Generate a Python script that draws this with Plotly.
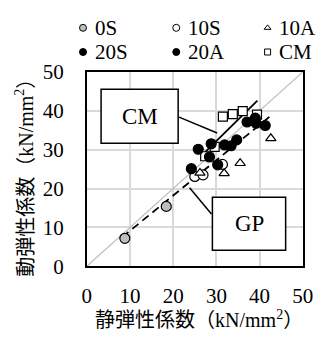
import plotly.graph_objects as go

# ---- data: static modulus (x) vs dynamic modulus (y), kN/mm2 ----
s0_x = [8.8, 18.4]
s0_y = [7.2, 15.4]
s10_x = [25.0, 26.9, 31.4]
s10_y = [23.1, 23.5, 26.2]
a10_x = [26.2, 31.8, 35.5, 42.6]
a10_y = [24.0, 23.9, 26.5, 32.9]
s20_x = [24.2, 25.8, 28.4, 28.8, 30.3]
s20_y = [25.1, 30.1, 28.1, 31.5, 26.1]
a20_x = [31.9, 33.4, 34.7, 37.1, 39.0, 39.2, 41.3]
a20_y = [31.2, 31.0, 32.5, 37.1, 38.1, 36.8, 36.2]
cm_x = [27.4, 29.6, 31.5, 33.8, 36.1, 39.4]
cm_y = [28.3, 30.7, 38.5, 39.1, 39.9, 39.0]

# regression lines
cm_fit_x = [26.5, 39.5]
cm_fit_y = [28.4, 42.6]
gp_fit_x = [8.2, 42.7]
gp_fit_y = [7.5, 38.8]

ticks = [0, 10, 20, 30, 40, 50]
series_names = ["0S", "10S", "10A", "20S", "20A", "CM"]

W, H = 329, 345
PX0, PX1, PY0, PY1 = 86, 313, 64.3, 273.3   # plot frame in pixels

SERIF = "Liberation Serif"
SERIF_JP = "Liberation Serif, Noto Sans CJK JP"

styles = {
    "0S": dict(symbol="circle", color="#bfbfbf", size=10),
    "10S": dict(symbol="circle", color="white", size=10),
    "10A": dict(symbol="triangle-up", color="white", size=9),
    "20S": dict(symbol="circle", color="black", size=10),
    "20A": dict(symbol="circle", color="black", size=10),
    "CM": dict(symbol="square", color="white", size=9),
}

fig = go.Figure()

# 1:1 reference line
fig.add_trace(go.Scatter(x=[0, 50], y=[0, 50], mode="lines",
                         line=dict(color="#bfbfbf", width=1.2),
                         showlegend=False, hoverinfo="skip"))
# fitted lines
fig.add_trace(go.Scatter(x=gp_fit_x, y=gp_fit_y, mode="lines",
                         line=dict(color="black", width=1.8, dash="8px,5px"),
                         showlegend=False))
fig.add_trace(go.Scatter(x=cm_fit_x, y=cm_fit_y, mode="lines",
                         line=dict(color="black", width=1.8),
                         showlegend=False))

data = {
    "0S": (s0_x, s0_y), "10S": (s10_x, s10_y), "10A": (a10_x, a10_y),
    "CM": (cm_x, cm_y), "20S": (s20_x, s20_y), "20A": (a20_x, a20_y),
}
for name, (xs, ys) in data.items():
    st = styles[name]
    fig.add_trace(go.Scatter(
        x=xs, y=ys, mode="markers", name=name, showlegend=False,
        marker=dict(symbol=st["symbol"], size=st["size"], color=st["color"],
                    line=dict(color="black", width=1.2))))

# ---- legend drawn on a full-figure pixel grid ----
leg_mx = [82, 180, 276]
leg_tx = [92, 190, 286]
leg_row = [17, 43]
for i, name in enumerate(series_names):
    r, c = divmod(i, 3)
    st = styles[name]
    fig.add_trace(go.Scatter(
        x=[leg_mx[c]], y=[leg_row[r]], mode="markers", xaxis="x3", yaxis="y3",
        showlegend=False, hoverinfo="skip",
        marker=dict(symbol=st["symbol"], size=st["size"] - 3, color=st["color"],
                    line=dict(color="black", width=1))))
    fig.add_annotation(x=leg_tx[c], y=leg_row[r], xref="x3", yref="y3",
                       text=name, showarrow=False, xanchor="left",
                       yanchor="middle", font=dict(family=SERIF, size=21, color="black"))

# ---- callout boxes and leader lines ----
boxes = [("CM", 101, 83, 182, 141), ("GP", 218, 199, 295, 256)]
for label, x0, y0, x1, y1 in boxes:
    fig.add_shape(type="rect", x0=x0, y0=y0, x1=x1, y1=y1, xref="x3", yref="y3",
                  line=dict(color="black", width=1.5), fillcolor="white", layer="above")
    fig.add_annotation(x=(x0 + x1) / 2, y=(y0 + y1) / 2, xref="x3", yref="y3",
                       text=label, showarrow=False,
                       font=dict(family=SERIF, size=23, color="black"))
for x0, y0, x1, y1 in [(183, 113, 223, 130), (194, 189, 217, 217)]:
    fig.add_shape(type="line", x0=x0, y0=y0, x1=x1, y1=y1, xref="x3", yref="y3",
                  line=dict(color="black", width=1.5), layer="above")

# axis titles
fig.add_annotation(x=(PX0 + PX1) / 2 + 4, y=330, xref="x3", yref="y3",
                   text="静弾性係数（kN/mm<sup>2</sup>）", showarrow=False,
                   font=dict(family=SERIF_JP, size=20, color="black"))
fig.add_annotation(x=20, y=(PY0 + PY1) / 2 + 4, xref="x3", yref="y3",
                   text="動弾性係数（kN/mm<sup>2</sup>）", showarrow=False, textangle=-90,
                   font=dict(family=SERIF_JP, size=20, color="black"))

axis_common = dict(range=[0, 50], tickvals=ticks, showgrid=True,
                   gridcolor="#d9d9d9", gridwidth=1.5, zeroline=False,
                   showline=True, linecolor="black", linewidth=1.5, mirror=True,
                   ticks="", tickfont=dict(family=SERIF, size=21, color="black"))

fig.update_layout(
    width=W, height=H, margin=dict(l=0, r=0, t=0, b=0),
    paper_bgcolor="white", plot_bgcolor="rgba(0,0,0,0)",
    showlegend=False,
    xaxis=dict(domain=[PX0 / W, PX1 / W], anchor="y", ticklabelstandoff=10,
               **axis_common),
    yaxis=dict(domain=[(H - PY1) / H, (H - PY0) / H], anchor="x",
               ticklabelstandoff=17, **axis_common),
    xaxis3=dict(domain=[0, 1], range=[0, W], visible=False, anchor="y3"),
    yaxis3=dict(domain=[0, 1], range=[H, 0], visible=False, anchor="x3"),
)

fig.write_html("out.html")
